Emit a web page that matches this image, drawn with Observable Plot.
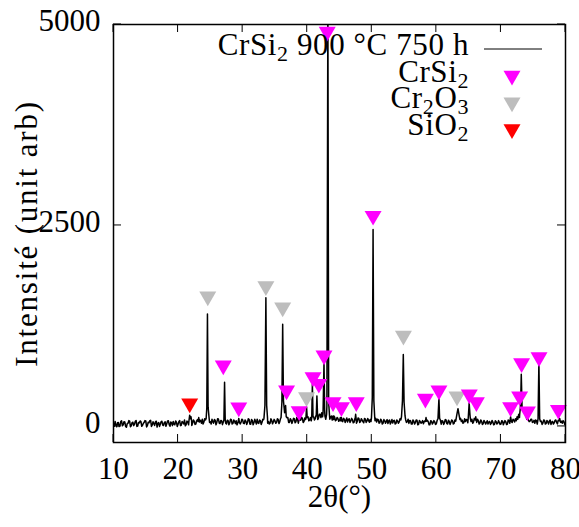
<!DOCTYPE html>
<html>
<head>
<meta charset="utf-8">
<script src="https://cdn.jsdelivr.net/npm/d3@7"></script>
<script src="https://cdn.jsdelivr.net/npm/@observablehq/plot@0.6"></script>
<style>
  body { margin: 0; background: white; }
  #chart { width: 579px; height: 527px; }
</style>
</head>
<body>
<div id="chart"></div>
<script>
// ---- Data ----
const xTicks = [10, 20, 30, 40, 50, 60, 70, 80];
const yTicks = [0, 2500, 5000];
const xDomain = [10, 80];
const yDomain = [-200, 5000];

// noisy background: values at 10°, 10.25°, ... 80°
const baseStart = 10, baseStep = 0.25;
const baseline = [
  30, 62, -5, 48, 12, 70, 20, 55, -10, 40, 66, 8, 52, 25, 74, 5, 44, 60, 15, 50,
  68, 10, 45, 75, 18, 36, 58, -8, 49, 27, 64, 12, 57, 33, 70, 2, 46, 62, 20, 54,
  28, 72, 15, 50, 80, 24, 60, 35, 78, 42, 65, 30, 85, 48, 70, 90, 55, 82, 60, 95,
  58, 88, 40, 75, 50, 92, 36, 68, 55, 80, 30, 72, 45, 85, 38, 64, 70, 42, 78, 50,
  82, 35, 66, 50, 88, 28, 74, 45, 60, 90, 38, 70, 52, 84, 46, 95, 60, 40, 76, 55,
  70, 48, 88, 60, 100, 55, 85, 72, 110, 50, 80, 65, 95, 58, 90, 45, 78, 100, 62, 85,
  95, 70, 112, 85, 120, 98, 130, 105, 150, 170, 140, 125, 150, 110, 90, 128, 95, 115, 80, 100,
  72, 105, 60, 90, 78, 55, 95, 68, 85, 50, 88, 62, 100, 58, 80, 45, 92, 66, 75, 85,
  90, 110, 70, 55, 85, 48, 78, 40, 72, 60, 35, 80, 52, 42, 75, 38, 66, 58, 82, 95,
  110, 80, 62, 38, 70, 30, 65, 48, 78, 25, 60, 50, 32, 72, 40, 58, 22, 66, 45, 55,
  35, 70, 58, 28, 65, 45, 80, 30, 62, 50, 72, 38, 66, 55, 85, 100, 78, 48, 60, 82,
  75, 105, 90, 55, 88, 50, 70, 42, 66, 35, 58, 48, 30, 62, 40, 55, 25, 60, 38, 52,
  30, 65, 45, 58, 28, 70, 85, 50, 78, 95, 120, 150, 135, 170, 140, 120, 100, 80, 65, 90,
  55, 40, 72, 60, 30, 66, 42, 75, 35, 58, 68, 25, 62, 45, 80, 32, 70, 50, 40, 60,
  45
];
// noisy background: values at 10.125°, 10.375°, ... 79.875°
const midStart = 10.125;
const baselineMid = [
  2, 18, 45, -2, 60, 8, 58, 0, 35, 72, -4, 46, 10, 64, 0, 50, 68, 2, 40, 72,
  -6, 52, 70, 0, 58, 12, 65, 40, 0, 60, 15, 48, 2, 68, 22, 55, 10, 28, 68, 0,
  60, 10, 62, 30, 8, 66, 20, 75, 12, 80, 25, 70, 18, 80, 40, 30, 95, 40, 88, 50,
  30, 60, 85, 20, 95, 40, 75, 22, 88, 40, 78, 20, 90, 30, 80, 35, 20, 82, 30, 90,
  40, 80, 25, 95, 30, 85, 20, 88, 30, 45, 80, 25, 90, 30, 85, 40, 30, 95, 32, 88,
  40, 95, 35, 100, 45, 105, 40, 108, 50, 95, 38, 100, 45, 110, 40, 95, 115, 50, 105, 45,
  120, 80, 70, 130, 80, 140, 85, 150, 110, 120, 165, 90, 100, 140, 118, 80, 130, 70, 110, 65,
  110, 55, 100, 50, 105, 85, 50, 100, 45, 95, 40, 105, 50, 95, 60, 100, 50, 98, 52, 60,
  70, 60, 100, 90, 40, 90, 30, 85, 40, 85, 70, 30, 85, 70, 30, 80, 40, 95, 50, 70,
  60, 50, 90, 75, 30, 80, 30, 80, 20, 75, 40, 72, 60, 25, 75, 20, 70, 30, 72, 25,
  75, 25, 80, 70, 25, 85, 35, 78, 25, 80, 30, 80, 40, 90, 55, 60, 40, 95, 85, 45,
  95, 60, 40, 100, 45, 90, 30, 80, 25, 75, 30, 70, 55, 25, 75, 20, 70, 30, 72, 25,
  70, 20, 72, 25, 80, 40, 60, 90, 55, 70, 90, 110, 170, 120, 165, 90, 130, 60, 90, 50,
  75, 80, 30, 85, 60, 25, 80, 30, 75, 30, 80, 55, 30, 75, 50, 78, 25, 65, 72, 25
];

// diffraction peaks: [2θ, intensity] vertices
const peaks = [
  [[21.7, 80], [21.8, 140], [21.9, 95], [22.0, 120], [22.1, 70]],
  [[23.1, 60], [23.2, 110], [23.3, 55]],
  [[24.35, 100], [24.45, 230], [24.55, 1400], [24.65, 240], [24.8, 110]],
  [[27.1, 80], [27.2, 550], [27.3, 85]],
  [[29.3, 60], [29.4, 100], [29.5, 50]],
  [[33.3, 100], [33.45, 260], [33.6, 1600], [33.72, 260], [33.85, 110]],
  [[35.95, 110], [36.08, 300], [36.2, 1270], [36.32, 320], [36.5, 170], [36.65, 260], [36.75, 120]],
  [[38.7, 70], [38.8, 130], [38.9, 80]],
  [[39.8, 100], [39.9, 240], [40.0, 110]],
  [[40.7, 110], [40.8, 520], [40.9, 120]],
  [[41.4, 130], [41.5, 380], [41.6, 140]],
  [[42.45, 160], [42.6, 800], [42.7, 200]],
  [[43.05, 260], [43.2, 5300], [43.32, 300], [43.45, 140]],
  [[43.9, 90], [44.0, 130], [44.1, 85]],
  [[45.2, 70], [45.3, 110], [45.4, 65]],
  [[47.4, 80], [47.5, 150], [47.6, 75]],
  [[49.95, 110], [50.08, 360], [50.2, 2450], [50.32, 320], [50.45, 120]],
  [[54.6, 120], [54.75, 320], [54.88, 895], [55.0, 300], [55.15, 130]],
  [[58.3, 60], [58.4, 110], [58.5, 65]],
  [[60.25, 95], [60.4, 350], [60.5, 100]],
  [[63.05, 90], [63.2, 160], [63.35, 220], [63.5, 150], [63.65, 85]],
  [[64.95, 120], [65.08, 290], [65.2, 150]],
  [[66.0, 80], [66.1, 120], [66.2, 70]],
  [[71.4, 70], [71.5, 120], [71.6, 75]],
  [[72.9, 150], [73.05, 260], [73.15, 650], [73.28, 220], [73.6, 170], [73.85, 150], [74.0, 90]],
  [[75.75, 95], [75.88, 800], [76.0, 95]],
  [[79.0, 70], [79.1, 100], [79.2, 60]]
];

// phase markers [2θ, intensity]
const crsi2Marks = [
  [27.0, 760], [29.4, 236], [36.8, 448], [38.75, 190], [40.9, 613], [41.8, 530],
  [42.6, 883], [43.1, 4910], [44.0, 302], [45.3, 240], [47.6, 302], [50.2, 2620],
  [58.3, 344], [60.4, 448], [65.1, 398], [66.2, 302], [71.5, 240], [72.9, 373],
  [73.2, 788], [74.1, 187], [75.9, 862], [78.9, 207]
];
const cr2o3Marks = [[24.6, 1617], [33.6, 1745], [36.2, 1480], [39.9, 365], [54.9, 1130], [63.2, 373]];
const sio2Marks = [[21.8, 286]];

const seriesParts = ["CrSi", "2", " 900 °C 750 h"];
const phaseNames = [["CrSi", "2"], ["Cr", "2", "O", "3"], ["SiO", "2"]];
const phaseColors = ["#ff00ff", "#bdbdbd", "#ff0000"];
const yTitle = "Intensité (unit arb)";
const xTitle = "2θ(°)";

// ---- Build trace ----
let trace = [
  ...baseline.map((v, i) => [baseStart + i * baseStep, v]),
  ...baselineMid.map((v, i) => [midStart + i * baseStep, v])
];
for (const p of peaks) {
  const lo = p[0][0], hi = p[p.length - 1][0];
  trace = trace.filter(([x]) => x < lo || x > hi);
  trace.push(...p);
}
trace.sort((a, b) => a[0] - b[0]);

const FONT = "Liberation Serif";
const R = 6.3;

const plot = Plot.plot({
  width: 579,
  height: 527,
  marginLeft: 113,
  marginRight: 14,
  marginTop: 24,
  marginBottom: 85,
  style: {fontFamily: FONT, fontSize: "31px", background: "white", color: "black", overflow: "visible"},
  x: {domain: xDomain},
  y: {domain: yDomain},
  marks: [
    Plot.line(trace, {x: d => d[0], y: d => d[1], stroke: "black", strokeWidth: 1.5, clip: true}),
    Plot.dot(sio2Marks, {x: d => d[0], y: d => d[1], symbol: "triangle", rotate: 180, r: R, fill: phaseColors[2]}),
    Plot.dot(cr2o3Marks, {x: d => d[0], y: d => d[1], symbol: "triangle", rotate: 180, r: R, fill: phaseColors[1]}),
    Plot.dot(crsi2Marks, {x: d => d[0], y: d => d[1], symbol: "triangle", rotate: 180, r: R, fill: phaseColors[0]}),
    // tick labels
    Plot.axisX(xTicks, {anchor: "bottom", tickSize: 0, tickPadding: 14, label: null, fontSize: 31, fontFamily: FONT, tickFormat: d => String(d)}),
    Plot.axisY(yTicks, {anchor: "left", tickSize: 0, tickPadding: 13, label: null, fontSize: 31, fontFamily: FONT, dy: -3, tickFormat: d => String(d)}),
    // axis titles
    Plot.text([yTitle], {frameAnchor: "left", textAnchor: "middle", dx: -86, rotate: -90, fontSize: 31, fontFamily: FONT, text: d => d}),
    Plot.text([xTitle], {frameAnchor: "bottom", textAnchor: "middle", dy: 64, fontSize: 31, fontFamily: FONT, text: d => d}),
    Plot.frame({stroke: "black", strokeWidth: 1.5})
  ]
});

document.getElementById("chart").appendChild(plot);

const svg = d3.select(plot);
svg.selectAll("text").filter(function () { return this.textContent === yTitle; })
  .style("letter-spacing", "1.8px");

// ---- inward tick marks on all four sides (from Plot's own scales) ----
const sx = plot.scale("x"), sy = plot.scale("y");
const frameL = sx.apply(xDomain[0]), frameR = sx.apply(xDomain[1]);
const frameB = sy.apply(yDomain[0]), frameT = sy.apply(yDomain[1]);
const TL = 8;
const tg = svg.append("g").attr("stroke", "black").attr("stroke-width", 1);
for (const v of xTicks) {
  const px = sx.apply(v);
  tg.append("line").attr("x1", px).attr("x2", px).attr("y1", frameB).attr("y2", frameB - TL);
  tg.append("line").attr("x1", px).attr("x2", px).attr("y1", frameT).attr("y2", frameT + TL);
}
for (const v of yTicks) {
  const py = sy.apply(v);
  tg.append("line").attr("y1", py).attr("y2", py).attr("x1", frameL).attr("x2", frameL + TL);
  tg.append("line").attr("y1", py).attr("y2", py).attr("x1", frameR).attr("x2", frameR - TL);
}

// ---- Legend (inside the plot, top right) ----
const lg = svg.append("g").attr("font-family", FONT).attr("font-size", 31).attr("fill", "black")
  .style("letter-spacing", "0.6px");
const textRight = 469, rowY0 = 55, rowStep = 26.7, symX = 512;

function writeChem(t, parts) {
  parts.forEach((s, k) => {
    const sub = k % 2 === 1;
    t.append("tspan").text(s)
      .attr("font-size", sub ? 22 : 31)
      .attr("dy", sub ? 6 : (k === 0 ? 0 : -6));
  });
}

const t0 = lg.append("text").attr("x", textRight).attr("y", rowY0).attr("text-anchor", "end");
writeChem(t0, seriesParts);
lg.append("line").attr("x1", 484).attr("x2", 542).attr("y1", rowY0 - 6).attr("y2", rowY0 - 6)
  .attr("stroke", "black").attr("stroke-width", 1);

const sym = d3.symbol(d3.symbolTriangle, Math.PI * R * R);
phaseNames.forEach((parts, i) => {
  const y = rowY0 + rowStep * (i + 1);
  const t = lg.append("text").attr("x", textRight).attr("y", y).attr("text-anchor", "end");
  writeChem(t, parts);
  lg.append("path").attr("d", sym()).attr("fill", phaseColors[i])
    .attr("transform", `translate(${symX},${y - 6}) rotate(180)`);
});
</script>
</body>
</html>
